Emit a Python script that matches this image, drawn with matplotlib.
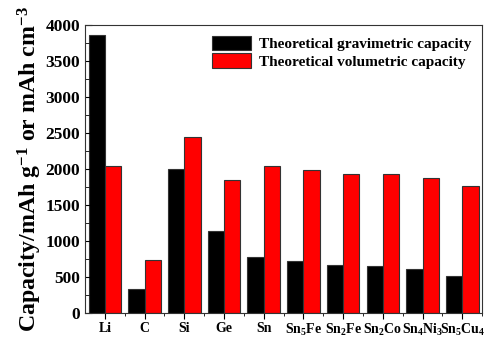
import numpy as np
import matplotlib
matplotlib.use('Agg')
import matplotlib.pyplot as plt
from matplotlib.ticker import MultipleLocator

plt.rcParams['font.family'] = 'Liberation Serif'
plt.rcParams['font.weight'] = 'bold'
plt.rcParams['mathtext.fontset'] = 'custom'
plt.rcParams['mathtext.rm'] = 'Liberation Serif:bold'
plt.rcParams['mathtext.bf'] = 'Liberation Serif:bold'
plt.rcParams['mathtext.it'] = 'Liberation Serif:bold'
plt.rcParams['mathtext.default'] = 'bf'

# 负极材料理论容量
materials = ['Li', 'C', 'Si', 'Ge', 'Sn', 'Sn$_5$Fe', 'Sn$_2$Fe', 'Sn$_2$Co', 'Sn$_4$Ni$_3$', 'Sn$_5$Cu$_4$']
gravimetric = [3860, 340, 2000, 1140, 785, 725, 665, 655, 610, 515]      # mAh/g
volumetric = [2045, 740, 2440, 1845, 2035, 1990, 1925, 1925, 1870, 1770]  # mAh/cm3

x = np.arange(len(materials))
w = 0.41

fig = plt.figure(figsize=(4.89, 3.37), dpi=100)
ax = fig.add_axes([0.174, 0.071, 0.812, 0.855])

ax.bar(x - w/2, gravimetric, w, color='black', edgecolor='#333333', linewidth=0.8,
       label='Theoretical gravimetric capacity')
ax.bar(x + w/2, volumetric, w, color='#ff0000', edgecolor='#333333', linewidth=0.8,
       label='Theoretical volumetric capacity')

ax.set_xlim(-0.5, 9.5)
ax.set_ylim(0, 4000)
ax.set_xticks(x)
ax.set_xticklabels(materials, fontsize=10)
ax.set_xticks(x + 0.5, minor=True)
ax.yaxis.set_major_locator(MultipleLocator(500))
ax.yaxis.set_minor_locator(MultipleLocator(250))
ax.tick_params(axis='y', which='both', direction='in', labelsize=12.5, right=False)
ax.tick_params(axis='y', which='major', length=5)
ax.tick_params(axis='y', which='minor', length=3)
ax.tick_params(axis='x', which='major', direction='out', length=4, pad=2.5)
ax.tick_params(axis='x', which='minor', direction='out', length=2.5)
for lab in ax.get_yticklabels():
    lab.set_fontweight('bold')

ax.set_ylabel('Capacity/mAh g$^{-1}$ or mAh cm$^{-3}$', fontsize=17.2, fontweight='bold', labelpad=1)

for s in ax.spines.values():
    s.set_linewidth(0.8)
    s.set_color('#333333')

ax.legend(loc='upper right', frameon=False, handlelength=2.6, handleheight=1.1,
          borderaxespad=0.3, labelspacing=0.15, handletextpad=0.5,
          prop={'weight': 'bold', 'size': 11})

fig.savefig('out.png', dpi=100)
